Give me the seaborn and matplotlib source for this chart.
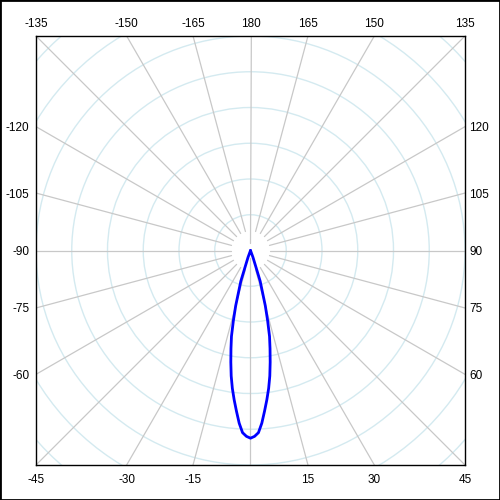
import numpy as np
import matplotlib
matplotlib.use("Agg")
import matplotlib.pyplot as plt
import seaborn as sns
from matplotlib.patches import Circle, Rectangle

# intensity per angle (0 = straight down, positive to the right)
angles = [-40, -30, -22.5, -20, -17.5, -15, -13.75, -12.5, -11.25, -10, -8.75,
          -7.5, -6.25, -5, -3.75, -2.5, -1.25, 0,
          1.25, 2.5, 3.75, 5, 6.25, 7.5, 8.75, 10, 11.25, 12.5, 13.75,
          15, 17.5, 20, 22.5, 30, 40]
intensity = [0, 0, 0, 20, 90, 160, 201, 246, 280, 317, 355,
             389, 420, 451, 484, 510, 520, 525,
             520, 510, 484, 451, 420, 389, 355, 317, 280, 246, 201,
             160, 90, 20, 0, 0, 0]

rings = [100, 200, 300, 400, 500, 600, 700, 800]
spokes = list(range(0, 360, 15))

bottom_labels = [-45, -30, -15, 15, 30, 45]
top_labels = [-135, -150, -165, 180, 165, 150, 135]
left_labels = [-120, -105, -90, -75, -60]
right_labels = [120, 105, 90, 75, 60]

L = 600

sns.set_theme(style="white")
plt.rcParams['font.family'] = ['Liberation Sans', 'DejaVu Sans']

fig = plt.figure(figsize=(5, 5), dpi=100)
ax = fig.add_axes([0.072, 0.07, 0.858, 0.858])

th = np.radians(angles)
r = np.array(intensity, dtype=float)
df = {"x": r * np.sin(th), "y": -r * np.cos(th)}

# grid
for rr in rings:
    ax.add_patch(Circle((0, 0), rr, fill=False, ec="#d4eaf0", lw=1, zorder=1))
for a in spokes:
    t = np.radians(a)
    rin = 20 if a in (0, 180) else 55
    ax.plot([rin * np.sin(t), 1000 * np.sin(t)], [-rin * np.cos(t), -1000 * np.cos(t)],
            color="#c8c8c8", lw=0.9, zorder=2)

sns.lineplot(x=df["x"], y=df["y"], sort=False, estimator=None, color="#0000ff",
             lw=2, ax=ax, zorder=3)

ax.set_xlim(-L, L)
ax.set_ylim(-L, L)

ax.set_xticks([L * np.tan(np.radians(a)) for a in bottom_labels])
ax.set_xticklabels([str(a) for a in bottom_labels])
ax.set_yticks([L / np.tan(np.radians(a)) for a in left_labels])
ax.set_yticklabels([str(a) for a in left_labels])
ax.tick_params(axis="x", length=0, pad=6.5, labelsize=8.5, colors="black")
ax.tick_params(axis="y", length=0, pad=4.8, labelsize=8.5, colors="black")

top = ax.secondary_xaxis("top")
top.set_xticks([-L * np.tan(np.radians(a)) for a in top_labels])
top.set_xticklabels([str(a) for a in top_labels])
top.tick_params(length=0, pad=4.3, labelsize=8.5, colors="black")
top.spines["top"].set_visible(False)

right = ax.secondary_yaxis("right")
right.set_yticks([-L / np.tan(np.radians(a)) for a in right_labels])
right.set_yticklabels([str(a) for a in right_labels])
right.tick_params(length=0, pad=3.1, labelsize=8.5, colors="black")
right.spines["right"].set_visible(False)

ax.set_xlabel("")
ax.set_ylabel("")
for s in ax.spines.values():
    s.set_color("black")
    s.set_linewidth(1)

fig.add_artist(Rectangle((0, 0), 1, 1, transform=fig.transFigure, fill=False,
                         ec="black", lw=2))

fig.savefig("out.png", dpi=100)
